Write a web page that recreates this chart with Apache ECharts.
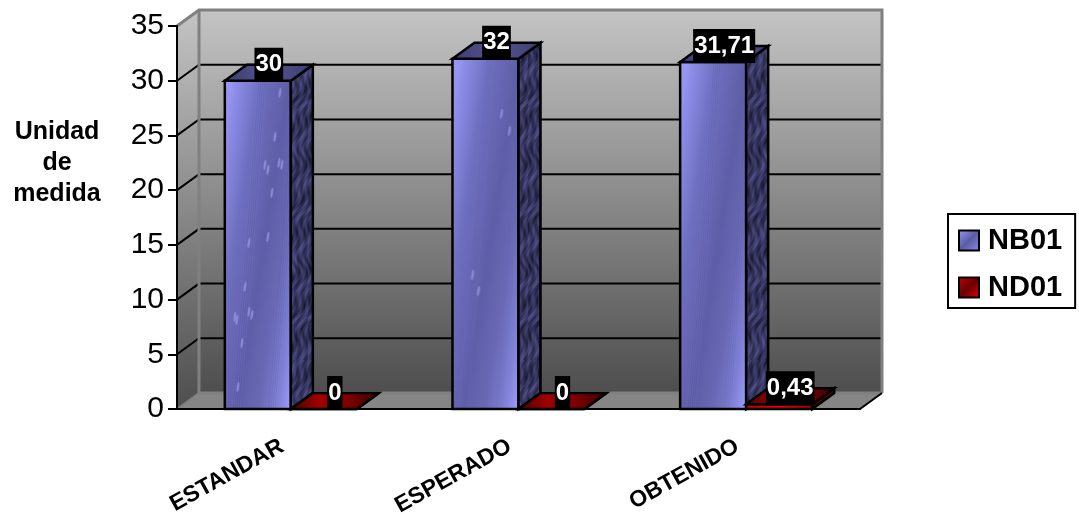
<!DOCTYPE html>
<html>
<head>
<meta charset="utf-8">
<style>html,body{margin:0;padding:0;background:#fff}#chart{width:1079px;height:517px}</style>
<script src="https://cdn.jsdelivr.net/npm/echarts@6/dist/echarts.min.js"></script>
</head>
<body>
<div id="chart"></div>
<script>
// Chart data
const categories = ['ESTANDAR', 'ESPERADO', 'OBTENIDO'];
const nb01Values = [30, 32, 31.71];
const nd01Values = [0, 0, 0.43];
const seriesNames = ['NB01', 'ND01'];
const gridValues = [5, 10, 15, 20, 25, 30];
const axisTitle = 'Unidad\nde\nmedida';

// 3D projection of the plot box, in pixels
const DEPTH_X = 22;
const DEPTH_Y = 16;
const BAR_SHARE = 0.29;
const FONT = '"Liberation Sans", Arial, sans-serif';

// Light specks painted on the blue front faces, relative to each face's top left
const specks = [
  [[55, 12], [50, 56], [40, 84], [43, 89], [54, 82], [57, 84], [47, 112], [43, 156],
   [24, 162], [20, 206], [10, 236], [12, 239], [24, 231], [27, 234], [17, 262], [13, 306]],
  [[49, 55], [57, 72], [20, 216], [26, 232]],
  []
];

function makeCanvas(w, h) {
  const c = document.createElement('canvas');
  c.width = Math.max(1, Math.round(w));
  c.height = Math.max(1, Math.round(h));
  return c;
}

// Front face: a sheen running top-left to bottom-right, with fine slanted streaks
const frontCache = {};
function frontTexture(i, w, h) {
  const key = i + '_' + Math.round(w) + '_' + Math.round(h);
  if (frontCache[key]) return frontCache[key];
  const c = makeCanvas(w, h);
  const g = c.getContext('2d');
  const tilt = 0.16;
  const k = (w + tilt * h) / (1 + tilt * tilt);
  const grad = g.createLinearGradient(0, 0, k, k * tilt);
  grad.addColorStop(0, '#a4a4ff');
  grad.addColorStop(0.1, '#8e8eea');
  grad.addColorStop(0.3, '#6f6fc0');
  grad.addColorStop(0.55, '#5e5ea8');
  grad.addColorStop(0.72, '#6868b4');
  grad.addColorStop(0.88, '#8080d6');
  grad.addColorStop(1, '#9e9eff');
  g.fillStyle = grad;
  g.fillRect(0, 0, c.width, c.height);
  g.lineWidth = 1;
  for (let n = 0; n < 26; n++) {
    const x = (n * 37) % 110 - 30;
    g.strokeStyle = n % 2 ? 'rgba(170,170,255,0.10)' : 'rgba(50,50,110,0.08)';
    g.beginPath();
    g.moveTo(x + 26, 0);
    g.quadraticCurveTo(x + 14, h * 0.5, x, h);
    g.stroke();
  }
  g.fillStyle = 'rgba(165,165,245,0.6)';
  (specks[i] || []).forEach(function (s) {
    if (s[1] >= h) return;
    g.beginPath();
    g.ellipse(s[0], s[1], 1.2, 5, 0.15, 0, Math.PI * 2);
    g.fill();
  });
  frontCache[key] = c;
  return c;
}

// Side face: dark mottled grain repeated as a tile
let sideTile = null;
function sideTexture() {
  if (sideTile) return sideTile;
  const W = 44, H = 360;
  const c = makeCanvas(W, H);
  const g = c.getContext('2d');
  const img = g.createImageData(W, H);
  for (let y = 0; y < H; y++) {
    for (let x = 0; x < W; x++) {
      const u = x + 4 * Math.sin(y * 0.061) + 2.5 * Math.sin(y * 0.173 + 1.3);
      const a = Math.sin(u * 0.83 + 1.1 * Math.sin(y * 0.037));
      const b = Math.sin(u * 0.37 + y * 0.29) * Math.sin(y * 0.113 + u * 0.21);
      const d = Math.sin(y * 0.71 + u * 1.7);
      const t = Math.max(0, Math.min(1, 0.5 + 0.18 * a + 0.24 * b + 0.07 * d));
      const p = (y * W + x) * 4;
      img.data[p] = 22 + t * 62;
      img.data[p + 1] = 22 + t * 62;
      img.data[p + 2] = 46 + t * 98;
      img.data[p + 3] = 255;
    }
  }
  g.putImageData(img, 0, 0);
  sideTile = c;
  return c;
}

const linear = (x, y, x2, y2, stops) => ({
  type: 'linear', x, y, x2, y2,
  colorStops: stops.map((color, i) => ({ offset: i / (stops.length - 1), color }))
});

const blueSwatch = linear(0, 0, 1, 1, ['#9a9aff', '#5c5ca4', '#8c8cf0']);
const redSwatch = linear(0, 0, 1, 1, ['#c80000', '#6a0000', '#f00000']);
const redTop = linear(0, 0, 1, 0, ['#4a0000', '#a00000', '#7a0000', '#3a0000']);
const redFront = linear(0, 0, 1, 0, ['#c00000', '#ee0000', '#a00000']);
const blueTop = linear(0, 0, 1, 0, ['#3c3c70', '#565690', '#3c3c70']);
const edge = { stroke: '#000', lineWidth: 2.5, lineJoin: 'miter' };

// Back wall, side wall, floor and gridlines of the plot box
function renderWalls(params, api) {
  const box = params.coordSys;
  const left = box.x, right = box.x + box.width;
  const top = box.y, bottom = box.y + box.height;
  const wallFill = linear(0, 0, 0, 1, ['#c4c4c4', '#4e4e4e']);
  const grey = '#808080';
  const children = [
    { type: 'polygon', shape: { points: [[left + DEPTH_X, top - DEPTH_Y], [right + DEPTH_X, top - DEPTH_Y], [right + DEPTH_X, bottom - DEPTH_Y], [left + DEPTH_X, bottom - DEPTH_Y]] }, style: { fill: wallFill } },
    { type: 'polygon', shape: { points: [[left, top], [left + DEPTH_X, top - DEPTH_Y], [left + DEPTH_X, bottom - DEPTH_Y], [left, bottom]] }, style: { fill: wallFill } },
    { type: 'polygon', shape: { points: [[left, bottom], [left + DEPTH_X, bottom - DEPTH_Y], [right + DEPTH_X, bottom - DEPTH_Y], [right, bottom]] }, style: { fill: '#858585' } }
  ];
  gridValues.forEach(function (v) {
    const y = api.coord([0, v])[1];
    children.push({ type: 'polyline', shape: { points: [[left, y], [left + DEPTH_X, y - DEPTH_Y], [right + DEPTH_X, y - DEPTH_Y]] }, style: { fill: 'none', stroke: '#000', lineWidth: 2 } });
  });
  children.push(
    { type: 'polyline', shape: { points: [[left, top], [left + DEPTH_X, top - DEPTH_Y], [right + DEPTH_X, top - DEPTH_Y], [right + DEPTH_X, bottom - DEPTH_Y]] }, style: { fill: 'none', stroke: grey, lineWidth: 3 } },
    { type: 'polyline', shape: { points: [[left + DEPTH_X, top - DEPTH_Y], [left + DEPTH_X, bottom - DEPTH_Y], [right + DEPTH_X, bottom - DEPTH_Y]] }, style: { fill: 'none', stroke: grey, lineWidth: 3 } },
    { type: 'line', shape: { x1: left, y1: bottom, x2: left + DEPTH_X, y2: bottom - DEPTH_Y }, style: { stroke: grey, lineWidth: 2 } },
    { type: 'line', shape: { x1: right, y1: bottom, x2: right + DEPTH_X, y2: bottom - DEPTH_Y }, style: { stroke: '#000', lineWidth: 2 } }
  );
  return { type: 'group', children };
}

// One extruded column: front, side and top faces plus its value tag
function renderColumn(seriesPos) {
  return function (params, api) {
    const cat = api.value(0), val = api.value(1);
    const base = api.coord([cat, 0]);
    const head = api.coord([cat, val]);
    const w = api.size([1, 0])[0] * BAR_SHARE;
    const x0 = base[0] - w + seriesPos * w;
    const x1 = x0 + w, yB = base[1], yT = head[1];
    const h = yB - yT;
    const isBlue = seriesPos === 0;
    const children = [];
    if (isBlue) {
      children.push({ type: 'image', style: { image: frontTexture(cat, w, h), x: x0, y: yT, width: w, height: h } });
    } else if (h > 0) {
      children.push({ type: 'rect', shape: { x: x0, y: yT, width: w, height: h }, style: { fill: redFront } });
    }
    children.push({ type: 'rect', shape: { x: x0, y: yT, width: w, height: h }, style: Object.assign({ fill: 'none' }, edge) });
    children.push({
      type: 'polygon',
      shape: { points: [[x1, yT], [x1 + DEPTH_X, yT - DEPTH_Y], [x1 + DEPTH_X, yB - DEPTH_Y], [x1, yB]] },
      style: Object.assign({ fill: isBlue ? { image: sideTexture(), repeat: 'repeat' } : '#5a0000' }, edge)
    });
    children.push({
      type: 'polygon',
      shape: { points: [[x0, yT], [x0 + DEPTH_X, yT - DEPTH_Y], [x1 + DEPTH_X, yT - DEPTH_Y], [x1, yT]] },
      style: Object.assign({ fill: isBlue ? blueTop : redTop }, edge)
    });
    children.push({
      type: 'text',
      z2: 50,
      style: {
        text: String(val).replace('.', ','),
        x: (x0 + x1) / 2 + DEPTH_X / 2,
        y: yT - DEPTH_Y,
        align: 'center',
        verticalAlign: 'middle',
        fill: '#fff',
        font: 'bold 24px ' + FONT,
        backgroundColor: '#000',
        padding: [5, 1],
        lineHeight: 24
      }
    });
    return { type: 'group', children };
  };
}

const toPoints = values => values.map((v, i) => [i, v]);

const chart = echarts.init(document.getElementById('chart'), null, { renderer: 'canvas' });
chart.setOption({
  animation: false,
  backgroundColor: '#fff',
  grid: { left: 177, right: 219, top: 26, bottom: 108, containLabel: false, outerBoundsMode: 'none' },
  xAxis: {
    type: 'category',
    data: categories,
    z: 5,
    boundaryGap: true,
    axisLine: { lineStyle: { color: '#000', width: 2 } },
    axisTick: { alignWithLabel: false, length: 9, lineStyle: { color: '#000', width: 2 } },
    axisLabel: { rotate: 29, margin: 31, color: '#000', fontFamily: FONT, fontWeight: 'bold', fontSize: 23, interval: 0, padding: [0, 10, 0, 0] }
  },
  yAxis: {
    type: 'value',
    min: 0,
    max: 35,
    interval: 5,
    z: 5,
    splitLine: { show: false },
    axisLine: { show: true, lineStyle: { color: '#000', width: 2 } },
    axisTick: { show: true, length: 9, lineStyle: { color: '#000', width: 2 } },
    axisLabel: { margin: 13, color: '#000', fontFamily: FONT, fontSize: 30 }
  },
  legend: {
    orient: 'vertical',
    left: 948,
    top: 214,
    padding: [12, 13, 6, 10],
    itemWidth: 20,
    itemHeight: 20,
    itemGap: 18,
    borderColor: '#000',
    borderWidth: 2,
    backgroundColor: '#fff',
    selectedMode: false,
    textStyle: { color: '#000', fontFamily: FONT, fontWeight: 'bold', fontSize: 29, padding: [0, 0, 0, 4] },
    data: [
      { name: seriesNames[0], icon: 'rect', itemStyle: { color: blueSwatch, borderColor: '#000', borderWidth: 2 } },
      { name: seriesNames[1], icon: 'rect', itemStyle: { color: redSwatch, borderColor: '#000', borderWidth: 2 } }
    ]
  },
  graphic: [{
    type: 'text',
    x: 57,
    y: 163,
    style: { text: axisTitle, align: 'center', verticalAlign: 'middle', fill: '#000', font: 'bold 25px ' + FONT, lineHeight: 31 }
  }],
  series: [
    { type: 'custom', name: 'plano', silent: true, z: 1, coordinateSystem: 'cartesian2d', renderItem: renderWalls, data: [[0, 0]], encode: { x: 0, y: 1 } },
    { type: 'custom', name: seriesNames[0], z: 6, coordinateSystem: 'cartesian2d', renderItem: renderColumn(0), data: toPoints(nb01Values), encode: { x: 0, y: 1 }, itemStyle: { color: blueSwatch } },
    { type: 'custom', name: seriesNames[1], z: 7, coordinateSystem: 'cartesian2d', renderItem: renderColumn(1), data: toPoints(nd01Values), encode: { x: 0, y: 1 }, itemStyle: { color: redSwatch } }
  ]
});
</script>
</body>
</html>
